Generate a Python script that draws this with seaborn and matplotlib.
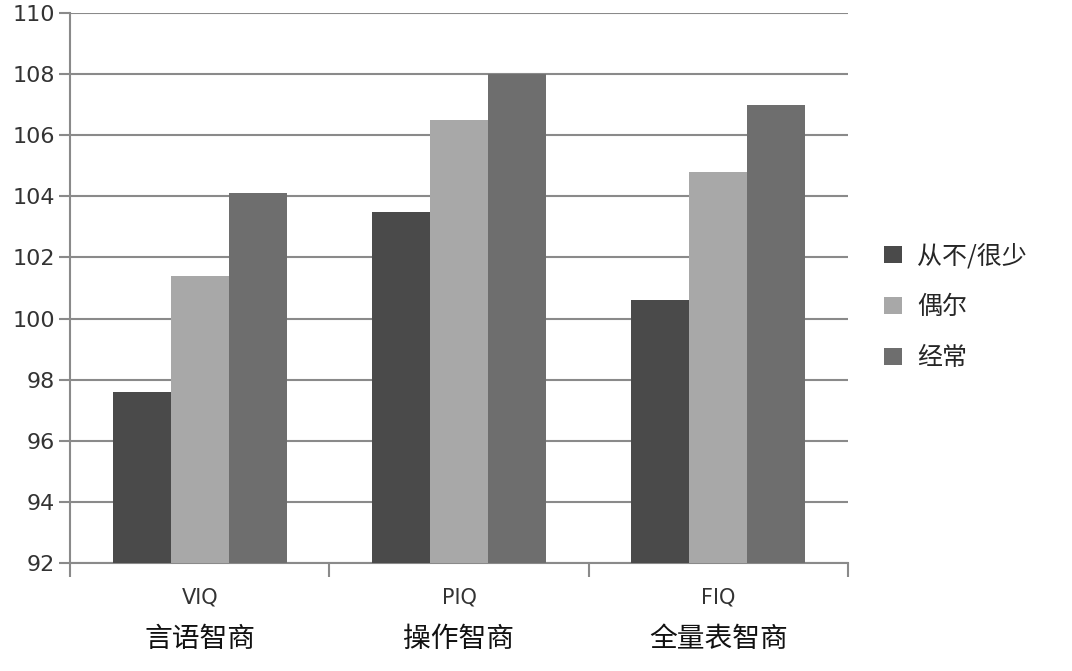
import pandas as pd
import seaborn as sns
import matplotlib.pyplot as plt
import matplotlib.transforms as mtransforms

# data
categories = ["VIQ", "PIQ", "FIQ"]
cn_labels = ["言语智商", "操作智商", "全量表智商"]
groups = ["从不/很少", "偶尔", "经常"]
never_rarely = [97.6, 103.5, 100.6]
sometimes = [101.4, 106.5, 104.8]
often = [104.1, 108.0, 107.0]
y_ticks = [92, 94, 96, 98, 100, 102, 104, 106, 108, 110]

df = pd.DataFrame({
    "cat": categories * 3,
    "group": [groups[0]] * 3 + [groups[1]] * 3 + [groups[2]] * 3,
    "value": never_rarely + sometimes + often,
})

sns.set_style("white")
plt.rcParams['font.family'] = ['Noto Sans CJK SC', 'DejaVu Sans']

fig = plt.figure(figsize=(10.72, 6.71), dpi=100)
ax = fig.add_axes([0.0653, 0.161, 0.7257, 0.8196])

palette = ["#4a4a4a", "#a8a8a8", "#6e6e6e"]
sns.barplot(data=df, x="cat", y="value", hue="group", palette=palette,
            width=0.67, gap=0, saturation=1, ax=ax, zorder=3)
for p in ax.patches:
    p.set_edgecolor("none")

ax.set_ylim(92, 110)
ax.set_xlim(-0.5, 2.5)
ax.set_yticks(y_ticks)
ax.set_xlabel("")
ax.set_ylabel("")
ax.yaxis.grid(True, color="#8a8a8a", linewidth=1.5, zorder=0)
ax.set_axisbelow(True)

for s in ["top", "right"]:
    ax.spines[s].set_visible(False)
for s in ["left", "bottom"]:
    ax.spines[s].set_color("#8a8a8a")
    ax.spines[s].set_linewidth(1.5)

ax.tick_params(axis="y", length=8, width=1.5, color="#8a8a8a",
               labelsize=16, labelcolor="#333333", pad=3, left=True)
ax.set_xticks([0, 1, 2])
ax.set_xticklabels(categories, fontsize=15, color="#333333",
                   family=["DejaVu Sans"])
ax.tick_params(axis="x", length=0, pad=18)
ax.set_xticks([-0.5, 0.5, 1.5, 2.5], minor=True)
ax.tick_params(axis="x", which="minor", length=10, width=1.5,
               color="#8a8a8a", bottom=True)
for lab in ax.get_yticklabels():
    lab.set_family(["DejaVu Sans"])

trans = mtransforms.blended_transform_factory(ax.transData, fig.transFigure)
for i, t in enumerate(cn_labels):
    ax.text(i, 0.048, t, transform=trans, ha="center", va="center",
            fontsize=20, color="#111111")

leg = ax.legend(loc="center left", bbox_to_anchor=(1.018, 0.465),
                frameon=False, fontsize=18, handlelength=0.7,
                handleheight=0.7, labelspacing=1.0, handletextpad=0.6)

fig.savefig("out.png", dpi=100)
